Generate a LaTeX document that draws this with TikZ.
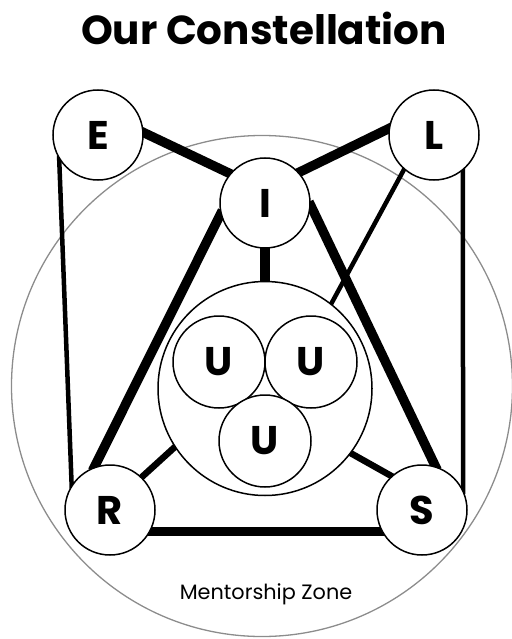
\documentclass[tikz,border=0pt]{standalone}
\usepackage{fontspec}
\setmainfont{Poppins}
\usetikzlibrary{calc}
\pgfdeclarelayer{back}
\pgfdeclarelayer{mid}
\pgfsetlayers{back,mid,main}
\begin{document}
\begin{tikzpicture}[x=1pt,y=-1pt,
  ball/.style={circle,draw=black,line width=1.5pt,fill=white,minimum size=90pt,inner sep=0pt,font=\fontsize{40}{40}\selectfont\bfseries},
  uball/.style={ball,minimum size=92pt},
  hub/.style={circle,draw=black,line width=1.5pt,fill=white,minimum size=214pt,inner sep=0pt},
  zonering/.style={circle,draw=black!45,line width=1.3pt,minimum size=501pt,inner sep=0pt},
  titletext/.style={anchor=base,font=\fontsize{40.5}{40.5}\selectfont\bfseries},
  zonetext/.style={anchor=base,font=\fontsize{20.8}{20.8}\selectfont},
  link/.style={line width=#1,shorten <=-4pt,shorten >=-4pt},
  heavy/.style={link=9.5pt},
  medium/.style={link=6.5pt},
  light/.style={link=4.5pt}]
\useasboundingbox (0,0) rectangle (511,639);
\begin{pgfonlayer}{back}
  \node[zonering] (G) at (262,386) {};
\end{pgfonlayer}
\node[titletext] (T) at (264,45) {Our Constellation};
\node[ball] (E) at (98,135) {E};
\node[ball] (L) at (434,135) {L};
\node[ball] (I) at (265,203) {I};
\node[ball] (R) at (110,510) {R};
\node[ball] (S) at (422,510) {S};
\node[hub] (B) at (265,388.5) {};
\node[uball] (U1) at (219,362) {U};
\node[uball] (U2) at (311,362) {U};
\node[uball] (U3) at (265,441) {U};
\node[zonetext] (Z) at (266,599) {Mentorship Zone};
\begin{pgfonlayer}{mid}
  \draw[heavy] (E.3) -- (I.140);
  \draw[heavy] (L.172) -- (I.42);
  \draw[light] (E.212) -- (R.147);
  \draw[light] (L.-51) -- (S.26);
  \draw[light] (L.229) -- (B.52);
  \draw[heavy] (I.-3) -- (S.73);
  \draw[heavy] (I.194) -- (R.110);
  \draw[heavy] (I.south) -- (B.north);
  \draw[medium] (R.46) -- (B.213);
  \draw[medium] (S.132) -- (B.-37);
  \draw[heavy] (R.-28) -- (S.208);
\end{pgfonlayer}
\end{tikzpicture}
\end{document}
